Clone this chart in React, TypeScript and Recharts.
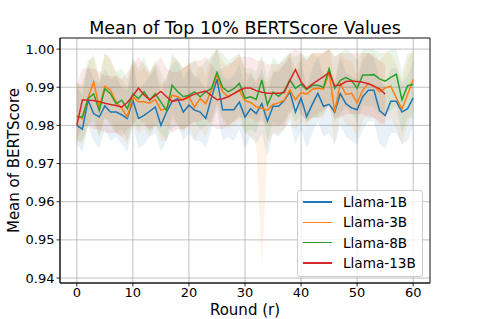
import React from 'react';
import { ComposedChart, Line, Area, XAxis, YAxis, CartesianGrid, Legend, ReferenceArea } from 'recharts';

const rounds: number[] = [0,1,2,3,4,5,6,7,8,9,10,11,12,13,14,15,16,17,18,19,20,21,22,23,24,25,26,27,28,29,30,31,32,33,34,35,36,37,38,39,40,41,42,43,44,45,46,47,48,49,50,51,52,53,54,55,56,57,58,59,60];
const seriesNames = ['Llama-1B', 'Llama-3B', 'Llama-8B', 'Llama-13B'];
const colors = ['#1f77b4', '#ff7f0e', '#2ca02c', '#d62728'];
const xTicks = [0, 10, 20, 30, 40, 50, 60];
const yTicks = [0.94, 0.95, 0.96, 0.97, 0.98, 0.99, 1.0];

const llama1B = [0.980,0.979,0.9866,0.9831,0.9822,0.9851,0.9835,0.9835,0.9828,0.9818,0.9866,0.9818,0.9826,0.9837,0.9848,0.980,0.9835,0.9863,0.987,0.9835,0.9853,0.984,0.9835,0.9818,0.9872,0.9921,0.9841,0.9841,0.9841,0.9861,0.9822,0.9844,0.9831,0.9857,0.9811,0.9850,0.9850,0.9865,0.9888,0.9835,0.9872,0.9823,0.9855,0.9884,0.985,0.9855,0.9835,0.9883,0.9857,0.9846,0.9841,0.9875,0.9892,0.9892,0.9839,0.9826,0.9863,0.9863,0.9835,0.9844,0.9872];
const llama3B = [0.9826,0.9818,0.9872,0.9914,0.9847,0.9902,0.9892,0.9862,0.9845,0.9822,0.9874,0.9862,0.9862,0.9858,0.9868,0.984,0.9844,0.9879,0.9875,0.9866,0.9875,0.9848,0.987,0.9857,0.9892,0.9932,0.9888,0.9875,0.9883,0.9892,0.9865,0.9860,0.9849,0.9845,0.9840,0.9855,0.9859,0.9866,0.9893,0.9867,0.9886,0.9882,0.9895,0.9897,0.9895,0.9938,0.9836,0.9910,0.9881,0.9884,0.9859,0.9892,0.9910,0.9903,0.9888,0.9898,0.9903,0.9872,0.9843,0.9881,0.9920];
const llama8B = [0.9822,0.9822,0.987,0.9883,0.9839,0.9896,0.9883,0.9857,0.9866,0.9844,0.9883,0.987,0.9888,0.9866,0.9883,0.9861,0.9839,0.9905,0.9888,0.9875,0.9879,0.9888,0.9875,0.9888,0.9896,0.9939,0.99,0.9888,0.9896,0.991,0.9871,0.9875,0.9868,0.9919,0.9854,0.9887,0.9876,0.9890,0.9919,0.9897,0.9908,0.9894,0.9905,0.9905,0.9900,0.9948,0.9897,0.9918,0.9925,0.9918,0.9897,0.9932,0.9932,0.9933,0.9922,0.9916,0.9926,0.9934,0.9867,0.9904,0.9907];
const llama13B = [0.980,0.9867,0.9866,0.9865,0.9862,0.9858,0.9855,0.9852,0.9848,0.986,0.9878,0.9898,0.988,0.9867,0.9878,0.9889,0.9875,0.9863,0.9866,0.9868,0.9875,0.9882,0.9886,0.989,0.9878,0.9867,0.987,0.9875,0.9883,0.9892,0.9898,0.9898,0.9891,0.9887,0.9884,0.9884,0.9884,0.9886,0.9918,0.9946,0.9914,0.9896,0.9908,0.9918,0.9928,0.9938,0.9904,0.9906,0.9915,0.9916,0.9915,0.9913,0.9909,0.9903,0.9896,0.9882];

const llama1BHi = [0.990,0.988,0.996,0.992,0.991,0.995,0.992,0.993,0.990,0.989,0.997,0.989,0.991,0.993,0.995,0.988,0.993,0.996,0.997,0.992,0.995,0.993,0.992,0.989,0.997,1.000,0.993,0.992,0.993,0.996,0.990,0.994,0.991,0.995,0.988,0.994,0.994,0.996,0.998,0.992,0.997,0.990,0.995,0.998,0.993,0.995,0.991,0.998,0.994,0.993,0.992,0.997,0.999,0.998,0.992,0.990,0.995,0.995,0.991,0.993,0.997];
const llama1BLo = [0.975,0.973,0.980,0.976,0.974,0.979,0.976,0.977,0.975,0.973,0.980,0.974,0.975,0.977,0.978,0.973,0.976,0.979,0.980,0.976,0.978,0.976,0.976,0.974,0.979,0.984,0.976,0.977,0.976,0.979,0.974,0.977,0.975,0.978,0.972,0.978,0.977,0.979,0.981,0.975,0.979,0.974,0.978,0.981,0.977,0.978,0.975,0.980,0.977,0.976,0.975,0.979,0.981,0.981,0.975,0.974,0.978,0.978,0.975,0.976,0.980];
const llama3BHi = [0.991,0.990,0.996,0.999,0.992,0.999,0.998,0.994,0.992,0.990,0.997,0.994,0.995,0.993,0.996,0.991,0.992,0.998,0.997,0.995,0.997,0.992,0.996,0.993,0.999,1.000,0.997,0.995,0.997,0.999,0.994,0.993,0.992,0.993,0.991,0.994,0.995,0.996,0.999,0.995,0.998,0.997,0.999,0.999,0.999,1.000,0.992,0.999,0.997,0.997,0.993,0.999,0.999,0.999,0.997,0.999,0.999,0.996,0.992,0.997,1.000];
const llama3BLo = [0.976,0.975,0.980,0.983,0.977,0.982,0.981,0.978,0.977,0.975,0.980,0.978,0.979,0.977,0.980,0.976,0.976,0.981,0.980,0.978,0.980,0.976,0.979,0.977,0.981,0.985,0.981,0.979,0.980,0.981,0.978,0.977,0.976,0.942,0.975,0.978,0.978,0.979,0.982,0.979,0.981,0.980,0.982,0.982,0.982,0.986,0.975,0.983,0.980,0.980,0.977,0.981,0.983,0.982,0.980,0.981,0.982,0.979,0.975,0.980,0.984];
const llama8BHi = [0.991,0.991,0.997,0.998,0.992,0.999,0.997,0.994,0.995,0.992,0.998,0.995,0.998,0.994,0.997,0.994,0.991,0.999,0.997,0.995,0.996,0.997,0.995,0.997,0.998,1.000,0.999,0.997,0.998,0.999,0.995,0.995,0.994,0.999,0.992,0.998,0.996,0.998,0.999,0.998,0.999,0.998,0.999,0.998,0.999,1.000,0.998,0.999,1.000,0.999,0.997,1.000,1.000,1.000,0.999,0.999,1.000,1.000,0.994,0.999,0.999];
const llama8BLo = [0.976,0.976,0.980,0.981,0.977,0.982,0.980,0.978,0.979,0.976,0.981,0.979,0.981,0.978,0.980,0.978,0.976,0.983,0.980,0.979,0.980,0.981,0.979,0.980,0.981,0.986,0.982,0.980,0.981,0.983,0.978,0.979,0.978,0.984,0.976,0.981,0.980,0.981,0.984,0.981,0.983,0.981,0.982,0.982,0.983,0.986,0.981,0.983,0.985,0.983,0.981,0.985,0.985,0.985,0.983,0.983,0.984,0.985,0.978,0.982,0.982];
const llama13BHi = [0.991,0.995,0.995,0.995,0.994,0.993,0.993,0.993,0.992,0.994,0.996,0.998,0.996,0.994,0.996,0.998,0.995,0.994,0.994,0.995,0.996,0.997,0.997,0.998,0.996,0.994,0.995,0.996,0.997,0.998,0.998,0.998,0.997,0.997,0.996,0.996,0.996,0.997,0.999,1.000,0.999,0.997,0.999,0.999,0.999,1.000,0.998,0.999,0.999,0.999,0.999,0.999,0.999,0.998,0.997,0.996];
const llama13BLo = [0.976,0.980,0.980,0.979,0.979,0.978,0.978,0.978,0.977,0.979,0.980,0.982,0.980,0.979,0.980,0.981,0.980,0.978,0.979,0.979,0.980,0.981,0.981,0.982,0.980,0.979,0.979,0.980,0.981,0.982,0.982,0.982,0.981,0.981,0.980,0.980,0.980,0.980,0.983,0.986,0.983,0.981,0.982,0.983,0.984,0.985,0.982,0.982,0.983,0.983,0.983,0.983,0.982,0.982,0.981,0.980];

const means = [llama1B, llama3B, llama8B, llama13B];
const his = [llama1BHi, llama3BHi, llama8BHi, llama13BHi];
const los = [llama1BLo, llama3BLo, llama8BLo, llama13BLo];
const keys = ['s0', 's1', 's2', 's3'];

const data = rounds.map((r, i) => {
  const row: any = { round: r };
  keys.forEach((k, s) => {
    if (i < means[s].length) {
      row[k] = means[s][i];
      row[k + 'band'] = [los[s][i], his[s][i]];
    }
  });
  return row;
});

const FONT = 'DejaVu Sans, sans-serif';
const Y_MIN = 0.9387;
const Y_MAX = 1.0029;

const LegendBox = () => (
  <div style={{ position: 'relative', width: 126, height: 87, boxSizing: 'border-box', border: '1px solid #cccccc', borderRadius: 3, background: 'rgba(255,255,255,0.8)', fontFamily: FONT }}>
    {seriesNames.map((name, i) => {
      const cy = 12 + i * 20.3;
      return (
        <React.Fragment key={name}>
          <div style={{ position: 'absolute', left: 5, top: cy - 0.75 - 1, width: 29, height: 1.5, background: colors[i] }} />
          <div style={{ position: 'absolute', left: 45, top: cy - 10 - 1, height: 20, lineHeight: '20px', fontSize: 13.6, color: '#000', whiteSpace: 'nowrap' }}>{name}</div>
        </React.Fragment>
      );
    })}
  </div>
);

export default function App() {
  return (
    <div style={{ position: 'absolute', left: 0, top: 0, width: 478, height: 319, background: '#fff' }}>
      <div style={{ position: 'absolute', left: 60, top: 19, width: 370, textAlign: 'center', fontFamily: FONT, fontSize: 17.5, lineHeight: '18px', color: '#000', whiteSpace: 'nowrap' }}>
        Mean of Top 10% BERTScore Values
      </div>
      <ComposedChart width={478} height={319} data={data} margin={{ top: 38, right: 48, bottom: 0, left: 0 }}>
        <CartesianGrid stroke="#b0b0b0" strokeWidth={0.8} />
        <XAxis
          dataKey="round"
          type="number"
          domain={[-3, 63]}
          ticks={xTicks}
          allowDataOverflow
          height={36}
          tickSize={3.5}
          tickMargin={1}
          axisLine={{ stroke: '#000', strokeWidth: 0.8 }}
          tickLine={{ stroke: '#000', strokeWidth: 0.8 }}
          tick={{ fill: '#000', fontSize: 13, fontFamily: FONT }}
          label={{ value: 'Round (r)', position: 'insideBottom', offset: 4, fill: '#000', fontSize: 15, fontFamily: FONT }}
        />
        <YAxis
          type="number"
          domain={[Y_MIN, Y_MAX]}
          ticks={yTicks}
          allowDataOverflow
          width={60}
          tickSize={3.5}
          tickMargin={2}
          tickFormatter={(v: number) => v.toFixed(2)}
          axisLine={{ stroke: '#000', strokeWidth: 0.8 }}
          tickLine={{ stroke: '#000', strokeWidth: 0.8 }}
          tick={{ fill: '#000', fontSize: 13, fontFamily: FONT }}
          label={{ value: 'Mean of BERTScore', angle: -90, position: 'insideLeft', offset: 14, fill: '#000', fontSize: 15, fontFamily: FONT, style: { textAnchor: 'middle' } }}
        />
        {keys.map((k, s) => (
          <Area
            key={k + 'band'}
            dataKey={k + 'band'}
            type="linear"
            stroke="none"
            fill={colors[s]}
            fillOpacity={0.1}
            isAnimationActive={false}
            activeDot={false}
            dot={false}
            legendType="none"
          />
        ))}
        {keys.map((k, s) => (
          <Line
            key={k}
            dataKey={k}
            name={seriesNames[s]}
            type="linear"
            stroke={colors[s]}
            strokeWidth={1.5}
            dot={false}
            activeDot={false}
            isAnimationActive={false}
          />
        ))}
        <ReferenceArea x1={-3} x2={63} y1={Y_MIN} y2={Y_MAX} fill="none" fillOpacity={0} stroke="#000" strokeWidth={0.8} />
        <Legend
          layout="vertical"
          align="center"
          verticalAlign="middle"
          wrapperStyle={{ left: 297, top: 190, width: 126, height: 87 }}
          content={() => <LegendBox />}
        />
      </ComposedChart>
    </div>
  );
}
